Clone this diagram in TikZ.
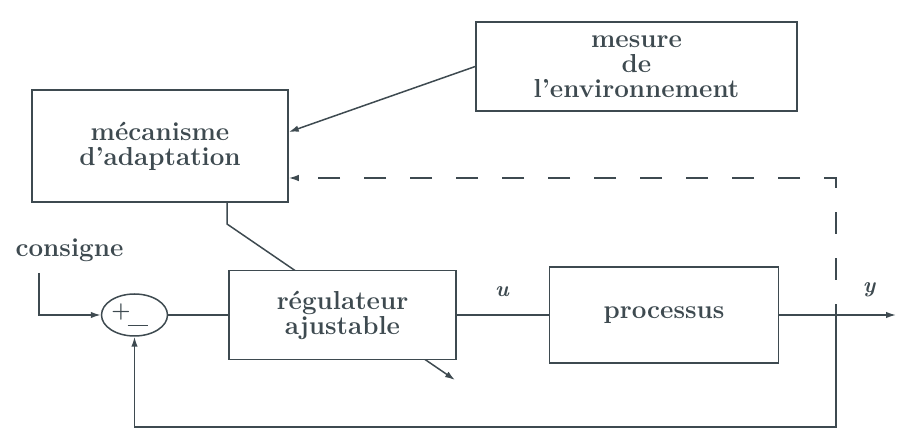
\documentclass[tikz,border=0pt]{standalone}
\usepackage{xcolor}
\usepackage{tikz}
\usetikzlibrary{arrows.meta,positioning,shapes.geometric,backgrounds}
\definecolor{inkgray}{RGB}{62,74,80}

\begin{document}
\begin{tikzpicture}[x=1pt, y=1pt, color=inkgray, line width=1.5pt, font=\fontsize{26}{25}\selectfont\bfseries, >={Latex[length=10pt,width=6.5pt]}]
  \tikzset{block/.style={draw, fill=white, align=center, inner sep=2pt},sumnode/.style={draw, fill=white, ellipse, minimum width=66pt, minimum height=42pt, inner sep=0pt, font=\fontsize{22}{22}\selectfont\bfseries},sig/.style={font=\fontsize{22}{24}\selectfont\bfseries\itshape}}
  \useasboundingbox (0,0) rectangle (898,-443);
  \node[block, minimum width=227pt, minimum height=89pt] (reg) at (342.5,-315) {régulateur\\ajustable};
  \node[block, minimum width=229pt, minimum height=96pt, right=92pt of reg] (proc) {processus};
  \node[sumnode, left=60pt of reg] (sum) {+\kern-3pt\raisebox{-9pt}{\rule{20pt}{1.5pt}}\kern10pt};
  \node[block, minimum width=256pt, minimum height=112pt] (mec) at (160,-146) {mécanisme\\d’adaptation};
  \node[block, minimum width=321pt, minimum height=89pt] (mes) at (636.5,-66.5) {mesure\\de\\l’environnement};
  \node (cons) at (69.5,-250) {consigne};
  \node[sig] (u) at (502,-292) {u};
  \node[sig] (y) at (869,-290) {y};
  \coordinate (cin) at (39,-273);
  \coordinate (tap) at (836,-315);
  \coordinate (out) at (896,-315);
  \coordinate (kink) at (227,-224);
  \coordinate (adj) at (455,-380);
  \draw[->] (cin) |- (sum.west);
  \draw (sum) -- (reg);
  \draw (reg) -- (proc);
  \draw[->] (proc) -- (out);
  \draw[->] (tap) -- ++(0,-112) -| (sum.south);
  \draw[->, dash pattern=on 22pt off 24pt, dash phase=11pt] (tap) |- ([yshift=-32pt]mec.east);
  \draw[->] (mes.west) -- ([yshift=14pt]mec.east);
  \begin{scope}[on background layer]
    \draw[->, inkgray, line width=1.5pt] ([xshift=67pt]mec.south) -- (kink) -- (adj);
  \end{scope}
\end{tikzpicture}
\end{document}
